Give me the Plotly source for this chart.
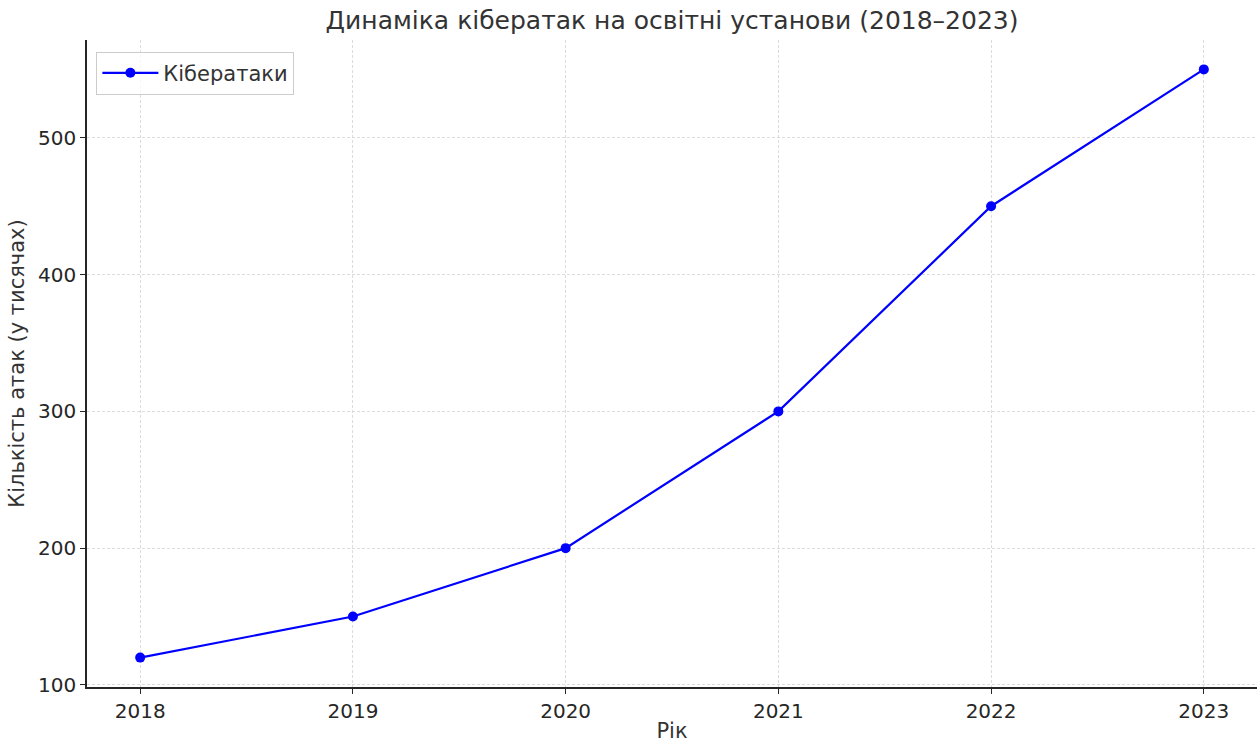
import plotly.graph_objects as go

years = [2018, 2019, 2020, 2021, 2022, 2023]
attacks = [120, 150, 200, 300, 450, 550]
y_ticks = [100, 200, 300, 400, 500]

title = "Динаміка кібератак на освітні установи (2018–2023)"
x_title = "Рік"
y_title = "Кількість атак (у тисячах)"
series_name = "Кібератаки"

fig = go.Figure()
fig.add_trace(go.Scatter(
    x=years, y=attacks, mode="lines+markers", name=series_name,
    line=dict(color="#0000ff", width=2.2),
    marker=dict(color="#0000ff", size=10),
))

axis_common = dict(
    showline=True, linecolor="#262626", linewidth=1.5,
    ticks="outside", ticklen=5, tickwidth=1.2, tickcolor="#262626",
    showgrid=True, gridcolor="#dcdcdc", griddash="3px,2px", gridwidth=0.8,
    zeroline=False, tickfont=dict(size=20, color="#262626", family="DejaVu Sans"),
    mirror=False,
)

fig.update_layout(
    width=1258, height=743,
    margin=dict(l=87, r=1, t=40, b=56),
    paper_bgcolor="white", plot_bgcolor="white",
    font=dict(family="DejaVu Sans", color="#262626"),
    title=dict(text=title, xref="paper", x=0.5, xanchor="center", y=0.973, yanchor="middle",
               font=dict(size=25, color="#333333")),
    xaxis=dict(axis_common, range=[2017.75, 2023.25], tickvals=years,
               title=dict(text=x_title, font=dict(size=21, color="#333333"), standoff=4)),
    yaxis=dict(axis_common, range=[98.5, 571.5], tickvals=y_ticks,
               title=dict(text=y_title, font=dict(size=21, color="#333333"), standoff=8)),
    showlegend=True,
    legend=dict(x=0.008, y=0.982, xanchor="left", yanchor="top",
                bgcolor="rgba(255,255,255,0.8)", bordercolor="#cccccc", borderwidth=1,
                itemwidth=56,
                font=dict(size=21, color="#333333")),
)

fig.write_html("out.html")
